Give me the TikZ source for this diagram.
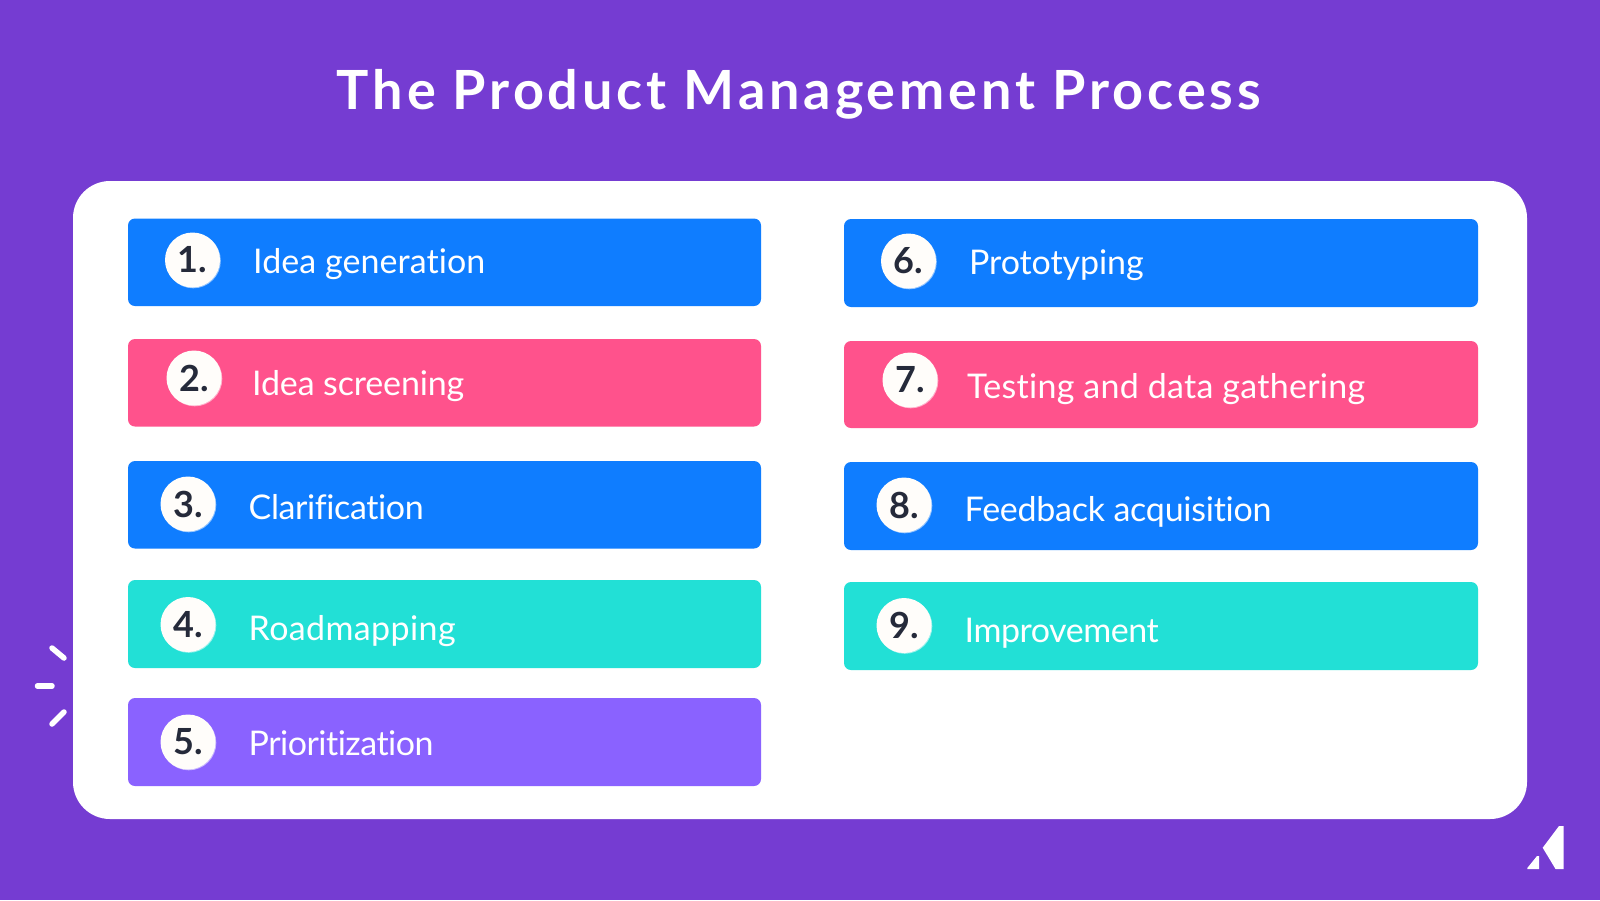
\documentclass[tikz,border=0pt]{standalone}
\usepackage{fontspec}
\setmainfont[Ligatures=NoCommon]{Lato}
\newfontfamily\titlefont[LetterSpace=7.2,Ligatures=NoCommon]{Lato}
\definecolor{bgpurple}{HTML}{753CD2}
\definecolor{barblue}{HTML}{0F7DFF}
\definecolor{barpink}{HTML}{FF528C}
\definecolor{barteal}{HTML}{22E0D6}
\definecolor{barviolet}{HTML}{8A62FF}
\definecolor{numdark}{HTML}{252A3A}
\definecolor{discwhite}{HTML}{FFFDFA}
\tikzset{
  x=1pt,y=-1pt,
  card/.style={fill=white,rounded corners=37pt},
  bar/.style={rounded corners=7pt},
  disc/.style={circle,fill=discwhite,minimum size=55pt,inner sep=0pt,font=\fontsize{36}{36}\selectfont\bfseries,text=numdark},
  halo/.style={fill=white,opacity=.55},
  barlabel/.style={anchor=base west,inner sep=0pt,text=white,font=\fontsize{34}{34}\selectfont\addfontfeatures{LetterSpace=#1}},
  barlabel/.default=0,
  tick/.style={draw=white,line width=5.5pt,line cap=round},
}
\newcommand{\rowitem}[9]{%
  % name, colour, x0,y0,x1,y1, discx, discy, num
  \fill[bar,fill=#2] (#3,#4) rectangle (#5,#6);
  \fill[halo] (#7+0.8,#8+0.8) circle[radius=27.5];
  \node[disc] (disc#1) at (#7,#8) {#9};
}
\begin{document}
\begin{tikzpicture}
\useasboundingbox (0,0) rectangle (1600,900);
\fill[bgpurple] (0,0) rectangle (1600,900);
\node[anchor=base,inner sep=0pt,text=white,font=\fontsize{54}{54}\selectfont\titlefont\bfseries] (title) at (799,109) {The Product Management Process};
\fill[card] (73,181) rectangle (1527,819);

\rowitem{a}{barblue}{128}{218.5}{761}{306}{192.5}{260}{1.}
\rowitem{b}{barpink}{128}{339}{761}{426.5}{194}{378}{2.}
\rowitem{c}{barblue}{128}{461}{761}{548.5}{188}{504}{3.}
\rowitem{d}{barteal}{128}{580}{761}{668}{188}{624.5}{4.}
\rowitem{e}{barviolet}{128}{698}{761}{786}{188}{742}{5.}
\rowitem{f}{barblue}{844}{219}{1478}{307}{908.5}{261}{6.}
\rowitem{g}{barpink}{844}{341}{1478}{428}{910}{380}{7.}
\rowitem{h}{barblue}{844}{462}{1478}{550}{904}{505}{8.}
\rowitem{i}{barteal}{844}{582}{1478}{670}{904}{625.5}{9.}

\node[barlabel=0.2] (la) at (253,273) {Idea generation};
\node[barlabel=-0.45] (lb) at (252,395.5) {Idea screening};
\node[barlabel=-1.15] (lc) at (248.5,519) {Clarification};
\node[barlabel=1.1] (ld) at (248.5,640) {Roadmapping};
\node[barlabel=-1.5] (le) at (248.5,755) {Prioritization};
\node[barlabel=-0.3] (lf) at (969,274.5) {Prototyping};
\node[barlabel=0.8] (lg) at (967,398) {Testing and data gathering};
\node[barlabel=-0.75] (lh) at (964.5,521) {Feedback acquisition};
\node[barlabel=-1.35] (li) at (964.5,642) {Improvement};

\draw[tick] (52,648) -- (64,658);
\draw[tick] (37.5,686) -- (52,686);
\draw[tick] (64,712) -- (52,724);

\fill[white] (1563.5,826) -- (1559,826) -- (1542.7,847.7) -- (1555.5,869) -- (1563.5,869) -- cycle;
\fill[white] (1539,856) -- (1537,856) -- (1527.3,868) -- (1527.3,869) -- (1539,869) -- cycle;
\end{tikzpicture}
\end{document}
